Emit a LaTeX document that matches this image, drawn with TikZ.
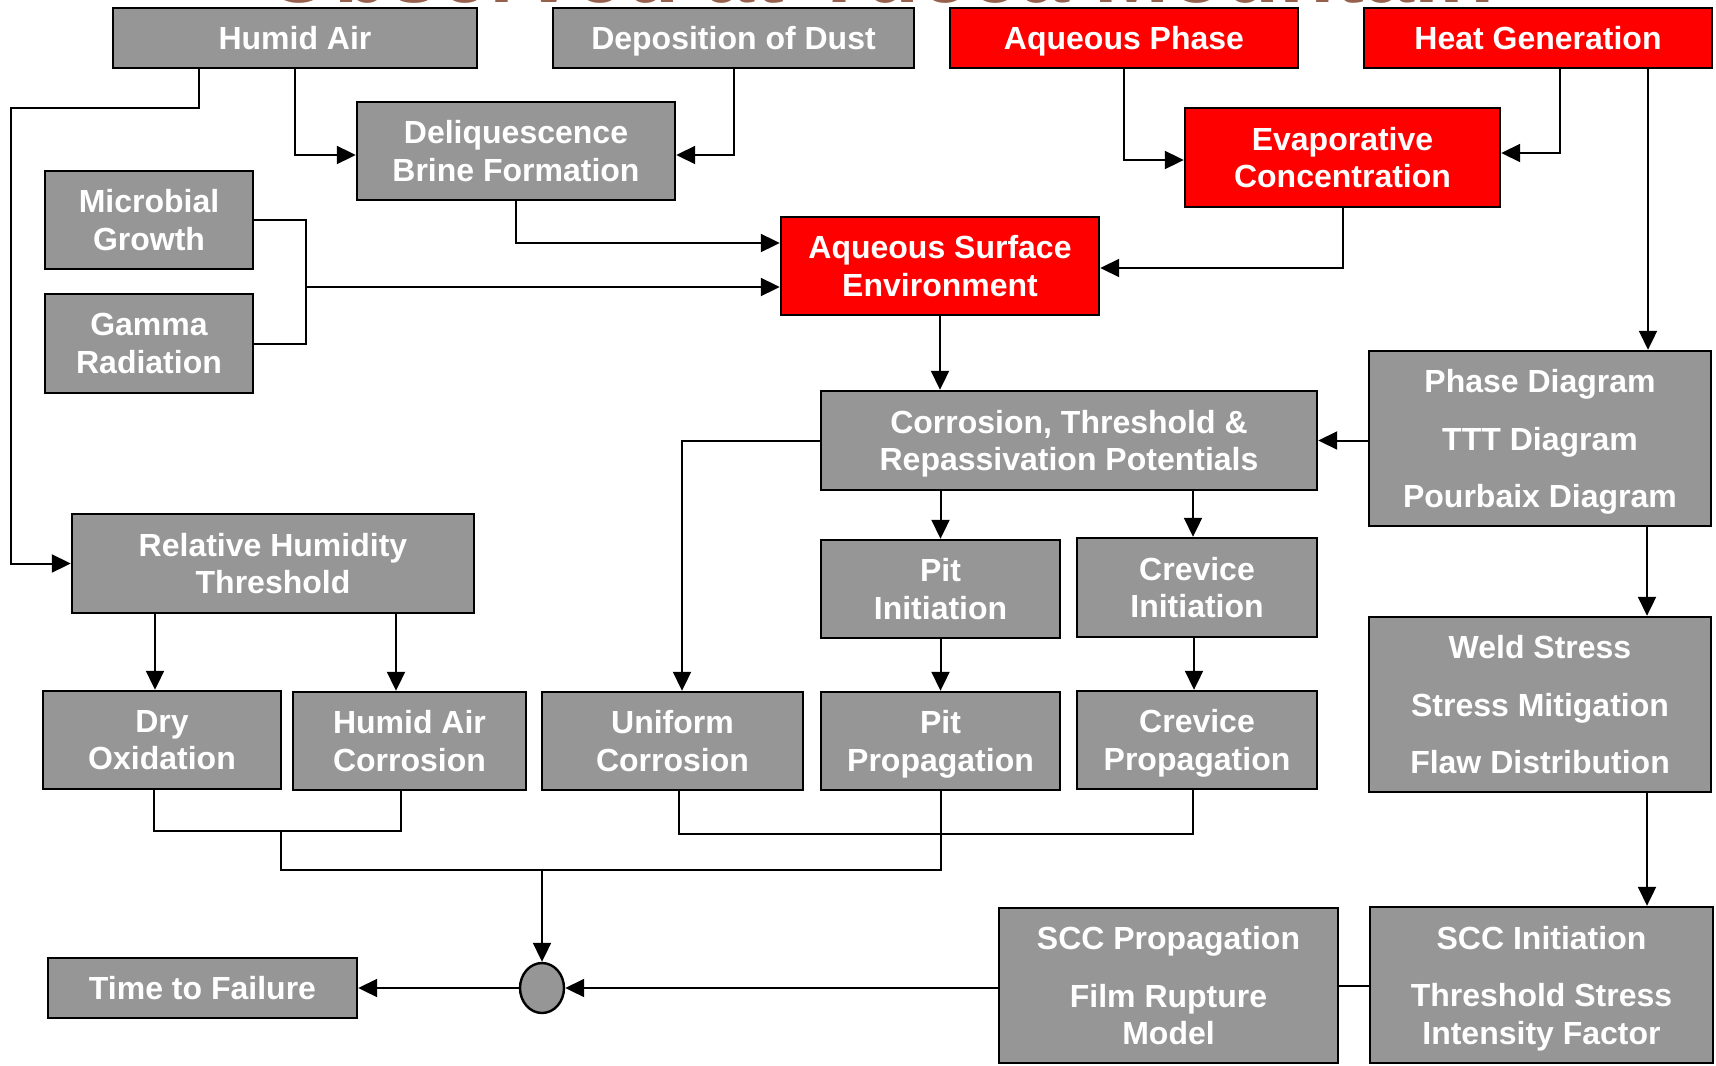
\documentclass[tikz,border=0pt]{standalone}
\usepackage{fontspec}
\setmainfont{Liberation Sans}
\usetikzlibrary{arrows.meta,shapes.geometric}
\definecolor{boxgray}{RGB}{150,150,150}
\definecolor{boxred}{RGB}{255,0,0}
\definecolor{titlebrown}{RGB}{150,96,76}
\begin{document}
\begin{tikzpicture}[x=0.5pt,y=-0.5pt,
  box/.style={draw=black, line width=1.2pt, fill=boxgray, text=white, align=center,
    inner sep=0pt, text depth=-1.6pt, font=\fontsize{16}{18.8}\selectfont\bfseries},
  redbox/.style={box, fill=boxred},
  conn/.style={line width=1pt, draw=black},
  arr/.style={conn, -{Triangle[length=9.5pt,width=9pt]}},
  junction/.style={ellipse, draw=black, line width=1.2pt, fill=boxgray, minimum width=22pt, minimum height=25pt, inner sep=0pt}]
\useasboundingbox (0,0) rectangle (1716,1065);
% title (cut off by the top edge, as in the reference)
\node[anchor=base west, inner sep=0pt, text=titlebrown, font=\fontsize{45}{50}\selectfont\bfseries] (title) at (264,3) {Observed at Yucca Mountain};
% boxes
\node[box, minimum width=182pt, minimum height=30pt] (hum) at (295,38) {Humid Air};
\node[box, minimum width=180.5pt, minimum height=30pt] (dust) at (733.5,38) {Deposition of Dust};
\node[redbox, minimum width=174pt, minimum height=30pt] (aqp) at (1124,38) {Aqueous Phase};
\node[redbox, minimum width=174pt, minimum height=30pt] (heat) at (1538,38) {Heat Generation};
\node[box, minimum width=159pt, minimum height=49pt] (deliq) at (516,151) {Deliquescence\\Brine Formation};
\node[redbox, minimum width=157.5pt, minimum height=49.5pt] (evap) at (1342.5,157.5) {Evaporative\\Concentration};
\node[box, minimum width=104pt, minimum height=49pt] (micro) at (149,220) {Microbial\\Growth};
\node[box, minimum width=104pt, minimum height=49.5pt] (gamma) at (149,343.5) {Gamma\\Radiation};
\node[redbox, minimum width=159pt, minimum height=49pt] (ase) at (940,266) {Aqueous Surface\\Environment};
\node[box, minimum width=248pt, minimum height=49.5pt] (corr) at (1069,440.5) {Corrosion, Threshold \&\\Repassivation Potentials};
\node[box, minimum width=171pt, minimum height=87.5pt] (phase) at (1540,438.5) {Phase Diagram\\[9.9pt]TTT Diagram\\[9.9pt]Pourbaix Diagram};
\node[box, minimum width=201pt, minimum height=49.5pt] (rh) at (273,563.5) {Relative Humidity\\Threshold};
\node[box, minimum width=119.5pt, minimum height=49pt] (pitI) at (940.5,589) {Pit\\Initiation};
\node[box, minimum width=120pt, minimum height=49.5pt] (crevI) at (1197,587.5) {Crevice\\Initiation};
\node[box, minimum width=119pt, minimum height=49pt] (dry) at (162,740) {Dry\\Oxidation};
\node[box, minimum width=116.5pt, minimum height=49pt] (hac) at (409.5,741) {Humid Air\\Corrosion};
\node[box, minimum width=130.5pt, minimum height=49pt] (unif) at (672.5,741) {Uniform\\Corrosion};
\node[box, minimum width=119.5pt, minimum height=49pt] (pitP) at (940.5,741) {Pit\\Propagation};
\node[box, minimum width=120pt, minimum height=49pt] (crevP) at (1197,740) {Crevice\\Propagation};
\node[box, minimum width=171pt, minimum height=87.5pt] (weld) at (1540,704.5) {Weld Stress\\[9.9pt]Stress Mitigation\\[9.9pt]Flaw Distribution};
\node[box, minimum width=171.5pt, minimum height=78pt] (sccI) at (1541.5,985) {SCC Initiation\\[9.9pt]Threshold Stress\\Intensity Factor};
\node[box, minimum width=169.5pt, minimum height=77.5pt] (sccP) at (1168.5,985.5) {SCC Propagation\\[9.9pt]Film Rupture\\Model};
\node[box, minimum width=154.5pt, minimum height=30pt] (ttf) at (202.5,988) {Time to Failure};
\node[junction] (circ) at (542,988) {};
% connectors
\draw[arr] (hum.south -| 199,0) |- (11,108) |- (rh.west);
\draw[arr] (hum.south) |- (deliq.west |- 0,155);
\draw[arr] (dust.south) |- (deliq.east |- 0,155);
\draw[arr] (aqp.south) |- (evap.west |- 0,160);
\draw[arr] (heat.south -| 1560,0) |- (evap.east |- 0,153);
\draw[arr] (heat.south -| 1648,0) -- (phase.north -| 1648,0);
\draw[arr] (deliq.south) |- (ase.west |- 0,243);
\draw[conn] (micro.east) -| (306,343.5) -- (gamma.east);
\draw[arr] (306,287) -- (ase.west |- 0,287);
\draw[arr] (evap.south) |- (ase.east |- 0,268);
\draw[arr] (ase.south) -- (corr.north -| ase.south);
\draw[arr] (phase.west |- corr.east) -- (corr.east);
\draw[arr] (corr.west) -| (unif.north -| 682,0);
\draw[arr] (corr.south -| pitI.north) -- (pitI.north);
\draw[arr] (corr.south -| 1193,0) -- (crevI.north -| 1193,0);
\draw[arr] (pitI.south) -- (pitP.north);
\draw[arr] (crevI.south -| 1194,0) -- (crevP.north -| 1194,0);
\draw[arr] (rh.south -| 155,0) -- (dry.north -| 155,0);
\draw[arr] (rh.south -| 396,0) -- (hac.north -| 396,0);
\draw[arr] (phase.south -| 1647,0) -- (weld.north -| 1647,0);
\draw[arr] (weld.south -| 1647,0) -- (sccI.north -| 1647,0);
\draw[conn] (dry.south -| 154,0) |- (401,831) -- (hac.south -| 401,0);
\draw[conn] (unif.south -| 679,0) |- (1193,834) -- (crevP.south -| 1193,0);
\draw[conn] (pitP.south) |- (281,870) -- (281,831);
\draw[arr] (542,870) -- (circ.north);
\draw[arr] (sccP.west |- circ.east) -- (circ.east);
\draw[conn] (sccP.east |- 0,986) -- (sccI.west |- 0,986);
\draw[arr] (circ.west) -- (ttf.east);
\end{tikzpicture}
\end{document}
